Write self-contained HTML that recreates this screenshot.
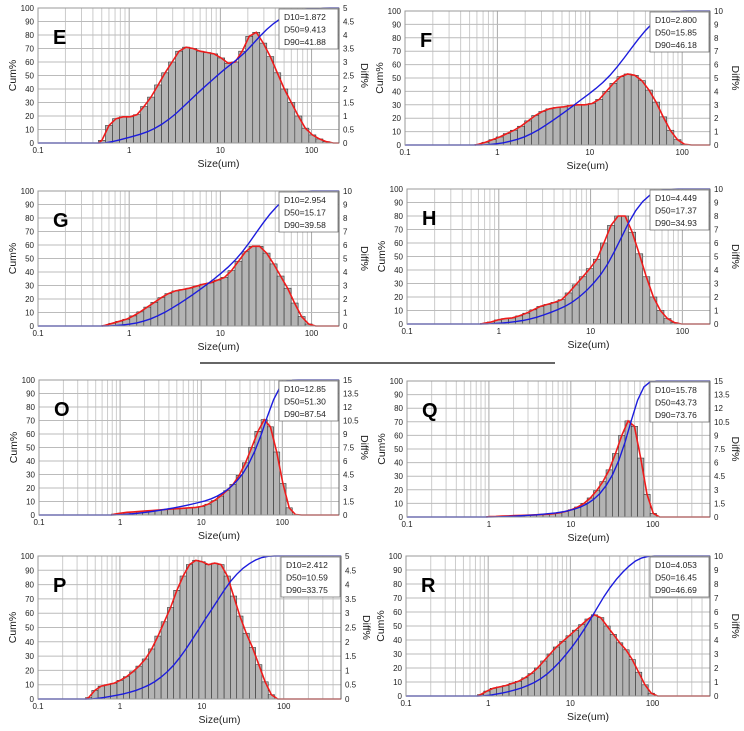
<!DOCTYPE html>
<html><head><meta charset="utf-8"><title>Particle size distributions</title>
<style>
html,body{margin:0;padding:0;background:#fff;}
svg{display:block;font-family:"Liberation Sans",Arial,sans-serif;}
</style></head>
<body>
<svg id="fig" width="744" height="731" viewBox="0 0 744 731" xmlns="http://www.w3.org/2000/svg">
<line x1="200" y1="363" x2="555" y2="363" stroke="#333" stroke-width="1.5"/>
</svg>
<script>
// Diff% values per bin (13 bins per decade) and first bin size per panel
const binsPerDecade = 13;
const eStart = 0.46;
const eDiff = [0.1,0.65,0.9,0.97,0.97,1.05,1.35,1.7,2.15,2.6,3.0,3.4,3.55,3.5,3.4,3.35,3.3,3.15,2.95,3.0,3.4,3.95,4.1,3.7,3.2,2.6,2.0,1.5,1.0,0.55,0.3,0.15,0.05,0];
const fStart = 0.57;
const fDiff = [0.05,0.2,0.4,0.6,0.85,1.1,1.4,1.8,2.2,2.5,2.7,2.8,2.85,2.95,3.0,3.0,3.1,3.4,4.0,4.6,5.1,5.3,5.2,4.8,4.1,3.2,2.1,1.1,0.4,0.05,0];
const gStart = 0.5;
const gDiff = [0.05,0.2,0.35,0.5,0.75,1.05,1.4,1.75,2.1,2.4,2.6,2.7,2.8,2.95,3.1,3.2,3.4,3.6,4.1,4.8,5.5,5.9,5.9,5.4,4.6,3.7,2.8,1.7,0.7,0.15,0];
const hStart = 0.63;
const hDiff = [0.05,0.15,0.3,0.4,0.45,0.6,0.8,1.05,1.3,1.45,1.6,1.8,2.3,2.9,3.5,4.1,4.8,6.0,7.3,8.0,8.0,6.8,5.2,3.5,2.0,1.0,0.4,0.1,0];
const oStart = 0.78;
const oDiff = [0.1,0.2,0.3,0.35,0.4,0.45,0.5,0.55,0.6,0.65,0.7,0.75,0.8,0.85,0.95,1.2,1.6,2.1,2.7,3.4,4.4,5.8,7.5,9.3,10.6,9.8,7.0,3.5,0.8,0.05,0];
const qStart = 0.93;
const qDiff = [0.05,0.07,0.1,0.12,0.15,0.18,0.2,0.23,0.26,0.3,0.35,0.45,0.6,0.8,1.1,1.5,2.1,2.9,3.9,5.2,7.0,9.0,10.6,10.0,6.5,2.5,0.4,0];
const pStart = 0.38;
const pDiff = [0.05,0.3,0.45,0.5,0.55,0.65,0.78,0.95,1.15,1.4,1.75,2.2,2.7,3.2,3.8,4.3,4.7,4.85,4.8,4.7,4.75,4.7,4.3,3.6,2.9,2.3,1.8,1.2,0.6,0.15,0];
const rStart = 0.74;
const rDiff = [0.1,0.35,0.55,0.65,0.75,0.9,1.05,1.3,1.6,2.0,2.5,3.0,3.5,3.9,4.3,4.7,5.1,5.5,5.8,5.6,5.0,4.4,3.8,3.3,2.6,1.7,0.8,0.2,0];
const cumTicks = [0,10,20,30,40,50,60,70,80,90,100];
const xTickLabels = ["0.1","1","10","100"];
const eStats = ["D10=1.872","D50=9.413","D90=41.88"];
const fStats = ["D10=2.800","D50=15.85","D90=46.18"];
const gStats = ["D10=2.954","D50=15.17","D90=39.58"];
const hStats = ["D10=4.449","D50=17.37","D90=34.93"];
const oStats = ["D10=12.85","D50=51.30","D90=87.54"];
const qStats = ["D10=15.78","D50=43.73","D90=73.76"];
const pStats = ["D10=2.412","D50=10.59","D90=33.75"];
const rStats = ["D10=4.053","D50=16.45","D90=46.69"];

const NS = "http://www.w3.org/2000/svg";
const svg = document.getElementById('fig');
function mk(tag, attrs, parent){
  const e = document.createElementNS(NS, tag);
  for (const k in attrs) e.setAttribute(k, attrs[k]);
  (parent||svg).appendChild(e);
  return e;
}
const panels = [
  {id:'e', label:'E', L:38, R:339, T:8, B:143, xmax:200, rmax:5, start:eStart, diff:eDiff, stats:eStats},
  {id:'f', label:'F', L:405, R:710, T:11, B:145, xmax:200, rmax:10, start:fStart, diff:fDiff, stats:fStats},
  {id:'g', label:'G', L:38, R:339, T:191, B:326, xmax:200, rmax:10, start:gStart, diff:gDiff, stats:gStats},
  {id:'h', label:'H', L:407, R:710, T:189, B:324, xmax:200, rmax:10, start:hStart, diff:hDiff, stats:hStats},
  {id:'o', label:'O', L:39, R:339, T:380, B:515, xmax:500, rmax:15, start:oStart, diff:oDiff, stats:oStats},
  {id:'q', label:'Q', L:407, R:710, T:381, B:517, xmax:500, rmax:15, start:qStart, diff:qDiff, stats:qStats},
  {id:'p', label:'P', L:38, R:341, T:556, B:699, xmax:500, rmax:5, start:pStart, diff:pDiff, stats:pStats},
  {id:'r', label:'R', L:406, R:710, T:556, B:696, xmax:500, rmax:10, start:rStart, diff:rDiff, stats:rStats}
];
const ratio = Math.pow(10, 1/binsPerDecade);

panels.forEach(p => {
  const g = mk('g', {});
  
  
  const lx0 = Math.log10(0.1), lx1 = Math.log10(p.xmax);
  const xs = v => p.L + (Math.log10(v) - lx0) / (lx1 - lx0) * (p.R - p.L);
  const yl = v => p.B - v / 100 * (p.B - p.T);
  const yr = v => p.B - v / p.rmax * (p.B - p.T);
  const grid = mk('g', {}, g);
  
  
  for (let d = 0.1; d < p.xmax; d *= 10) {
    for (let m = 1; m <= 9; m++) {
      const v = d * m;
      if (v > p.xmax) break;
      mk('line', {x1:xs(v), x2:xs(v), y1:p.T, y2:p.B, stroke: m===1?'#aaa':'#ccc', 'stroke-width':1}, grid);
    }
  }
  cumTicks.forEach(t => mk('line', {x1:p.L, x2:p.R, y1:yl(t), y2:yl(t), stroke:'#bbb', 'stroke-width':1}, grid));
  const bars = mk('g', {}, g);
  
  
  const redPts = [];
  p.diff.forEach((v, i) => {
    const s0 = p.start * Math.pow(ratio, i), s1 = s0 * ratio;
    const x0 = xs(s0), x1 = xs(s1);
    const r = mk('rect', {x:x0, y:yr(v), width:Math.max(0, x1 - x0), height:p.B - yr(v), fill:'#b4b4b4', stroke:'#333', 'stroke-width':0.6}, bars);
    
    
    redPts.push([(x0 + x1) / 2, yr(v)]);
  });
  const firstX = xs(p.start);
  let rd = 'M' + firstX + ',' + p.B + ' ' + redPts.map(q => 'L' + q[0].toFixed(1) + ',' + q[1].toFixed(1)).join(' ') + ' L' + p.R + ',' + p.B;
  const red = mk('path', {d:rd, fill:'none', stroke:'#ee1c1c', 'stroke-width':1.6}, g);
  
  
  const total = p.diff.reduce((a, b) => a + b, 0);
  let acc = 0;
  let bd = 'M' + p.L + ',' + p.B + ' L' + firstX + ',' + p.B;
  p.diff.forEach((v, i) => {
    acc += v;
    const s1 = p.start * Math.pow(ratio, i + 1);
    bd += ' L' + xs(s1).toFixed(1) + ',' + yl(acc / total * 100).toFixed(1);
  });
  bd += ' L' + p.R + ',' + p.T;
  const blue = mk('path', {d:bd, fill:'none', stroke:'#1c1cdd', 'stroke-width':1.4}, g);
  
  
  mk('rect', {x:p.L, y:p.T, width:p.R - p.L, height:p.B - p.T, fill:'none', stroke:'#999', 'stroke-width':1}, g);
  mk('line', {x1:p.R, x2:p.R, y1:p.T, y2:p.B, stroke:'#666', 'stroke-width':1}, g);
  const lt = mk('g', {'font-size':8, fill:'#222', 'text-anchor':'end'}, g);
  
  
  cumTicks.forEach(t => { const tx = mk('text', {x:p.L - 4, y:yl(t) + 3}, lt); tx.textContent = t; });
  const rt = mk('g', {'font-size':8, fill:'#222', 'text-anchor':'start'}, g);
  
  
  for (let k = 0; k <= 10; k++) {
    const v = p.rmax * k / 10;
    const tx = mk('text', {x:p.R + 4, y:yr(v) + 3}, rt);
    tx.textContent = (Math.round(v * 10) / 10).toString();
  }
  const xt = mk('g', {'font-size':8, fill:'#222', 'text-anchor':'middle'}, g);
  
  
  [0.1, 1, 10, 100].forEach((v, i) => { const tx = mk('text', {x:xs(v), y:p.B + 10}, xt); tx.textContent = xTickLabels[i]; });
  const xtitle = mk('text', {x:(p.L + p.R) / 2 + 30, y:p.B + 24, 'font-size':10.5, 'text-anchor':'middle', fill:'#222'}, g);
  xtitle.textContent = 'Size(um)';
  
  
  const cy = (p.T + p.B) / 2;
  const yt = mk('text', {x:p.L - 22, y:cy, 'font-size':10.5, 'text-anchor':'middle', fill:'#222', transform:'rotate(-90 ' + (p.L - 22) + ' ' + cy + ')'}, g);
  yt.textContent = 'Cum%';
  
  
  const ry = mk('text', {x:p.R + 22, y:cy, 'font-size':10.5, 'text-anchor':'middle', fill:'#222', transform:'rotate(90 ' + (p.R + 22) + ' ' + cy + ')'}, g);
  ry.textContent = 'Diff%';
  
  
  const lg = mk('g', {}, g);
  
  
  mk('rect', {x:p.R - 60, y:p.T + 1, width:59, height:40, fill:'#fff', stroke:'#777', 'stroke-width':0.8}, lg);
  p.stats.forEach((s, i) => { const tx = mk('text', {x:p.R - 55, y:p.T + 12 + i * 12.5, 'font-size':8.5, fill:'#222'}, lg); tx.textContent = s; });
  const lab = mk('text', {x:p.L + 15, y:p.T + 36, 'font-size':20, 'font-weight':'bold', fill:'#000'}, g);
  lab.textContent = p.label;
  
  
});
</script>
</body></html>
